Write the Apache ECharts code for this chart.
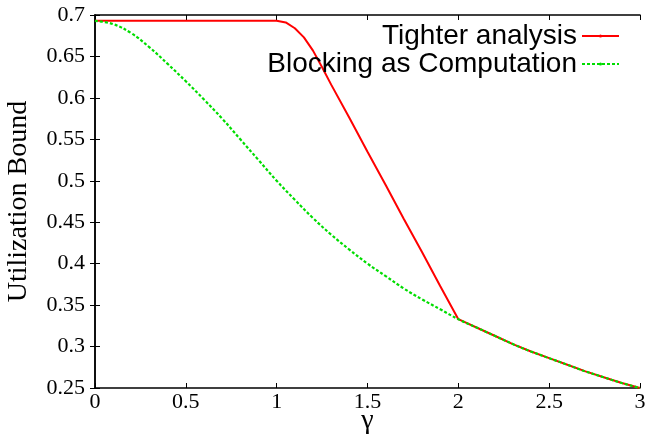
<!DOCTYPE html>
<html>
<head>
<meta charset="utf-8">
<script src="https://cdn.jsdelivr.net/npm/echarts@6/dist/echarts.min.js"></script>
<style>
  html, body { margin: 0; padding: 0; background: #fff; }
  #chart { width: 648px; height: 440px; }
</style>
</head>
<body>
<div id="chart"></div>
<script>
// values
const tighterX = [0, 0.5, 1.0, 1.05, 1.1, 1.15, 1.2, 1.25, 1.3, 1.4, 1.5, 1.6, 1.7, 1.8, 1.9, 2.0,
  2.1, 2.2, 2.3, 2.4, 2.5, 2.6, 2.7, 2.8, 2.9, 3.0];
const tighterY = [0.693, 0.693, 0.693, 0.691, 0.684, 0.673, 0.657, 0.637, 0.616, 0.576, 0.535, 0.495, 0.454, 0.414, 0.373, 0.333,
  0.323, 0.313, 0.303, 0.294, 0.286, 0.278, 0.270, 0.263, 0.256, 0.250];

const blockingX = [0, 0.1, 0.2, 0.3, 0.4, 0.5, 0.6, 0.7, 0.8, 0.9, 1.0, 1.1, 1.2, 1.3, 1.4, 1.5,
  1.6, 1.7, 1.8, 1.9, 2.0, 2.1, 2.2, 2.3, 2.4, 2.5, 2.6, 2.7, 2.8, 2.9, 3.0];
const blockingY = [0.693, 0.689, 0.678, 0.661, 0.641, 0.620, 0.598, 0.575, 0.550, 0.525, 0.500, 0.477, 0.455, 0.435, 0.417, 0.400,
  0.385, 0.370, 0.357, 0.345, 0.333, 0.323, 0.313, 0.303, 0.294, 0.286, 0.278, 0.270, 0.263, 0.256, 0.250];

const seriesNames = ['Tighter analysis', 'Blocking as Computation'];

const sans = '"Liberation Sans", Arial, sans-serif';

const zip = (xs, ys) => xs.map((x, i) => [x, ys[i]]);

const chart = echarts.init(document.getElementById('chart'));

const tick = { show: true, inside: true, length: 5, lineStyle: { color: '#000', width: 1 } };
const line = { show: true, lineStyle: { color: '#000', width: 1.5 } };

chart.setOption({
  animation: false,
  textStyle: { fontFamily: 'Liberation Serif' },
  grid: { left: 95, right: 8, top: 15, bottom: 52, outerBoundsMode: 'none', containLabel: false },
  legend: [
    {
      data: [seriesNames[0]], right: 23, top: 17, align: 'right',
      itemWidth: 37, itemHeight: 4,
      textStyle: { fontFamily: sans, fontSize: 28, color: '#000', lineHeight: 28 }
    },
    {
      data: [seriesNames[1]], right: 23, top: 45, align: 'right',
      itemWidth: 37, itemHeight: 4,
      textStyle: { fontFamily: sans, fontSize: 28, color: '#000', lineHeight: 28 }
    }
  ],
  xAxis: [
    {
      type: 'value', min: 0, max: 3, interval: 0.5,
      name: 'γ', nameLocation: 'middle', nameGap: 19, nameMoveOverlap: false,
      nameTextStyle: { fontFamily: 'Liberation Serif', fontSize: 28, color: '#000', verticalAlign: 'top' },
      axisLine: line, axisTick: tick, splitLine: { show: false },
      axisLabel: { fontFamily: 'Liberation Serif', fontSize: 22, color: '#000', margin: 3 }
    },
    {
      type: 'value', position: 'top', min: 0, max: 3, interval: 0.5,
      axisLine: line, axisTick: tick, splitLine: { show: false },
      axisLabel: { show: false }
    }
  ],
  yAxis: [
    {
      type: 'value', min: 0.25, max: 0.7, interval: 0.05,
      name: 'Utilization Bound', nameLocation: 'middle', nameGap: 62, nameMoveOverlap: false,
      nameTextStyle: { fontFamily: 'Liberation Serif', fontSize: 28, color: '#000' },
      axisLine: line, axisTick: tick, splitLine: { show: false },
      axisLabel: { fontFamily: 'Liberation Serif', fontSize: 22, color: '#000', margin: 10 }
    },
    {
      type: 'value', position: 'right', min: 0.25, max: 0.7, interval: 0.05,
      axisLine: line, axisTick: tick, splitLine: { show: false },
      axisLabel: { show: false }
    }
  ],
  series: [
    {
      name: seriesNames[0], type: 'line',
      data: zip(tighterX, tighterY),
      showSymbol: false, symbol: 'none',
      lineStyle: { color: '#ff0000', width: 2 },
      itemStyle: { color: '#ff0000' }
    },
    {
      name: seriesNames[1], type: 'line',
      data: zip(blockingX, blockingY),
      showSymbol: false, symbol: 'none', smooth: 0.4,
      lineStyle: { color: '#00dd00', width: 2.2, type: [3, 2] },
      itemStyle: { color: '#00dd00' }
    }
  ]
});
</script>
</body>
</html>
